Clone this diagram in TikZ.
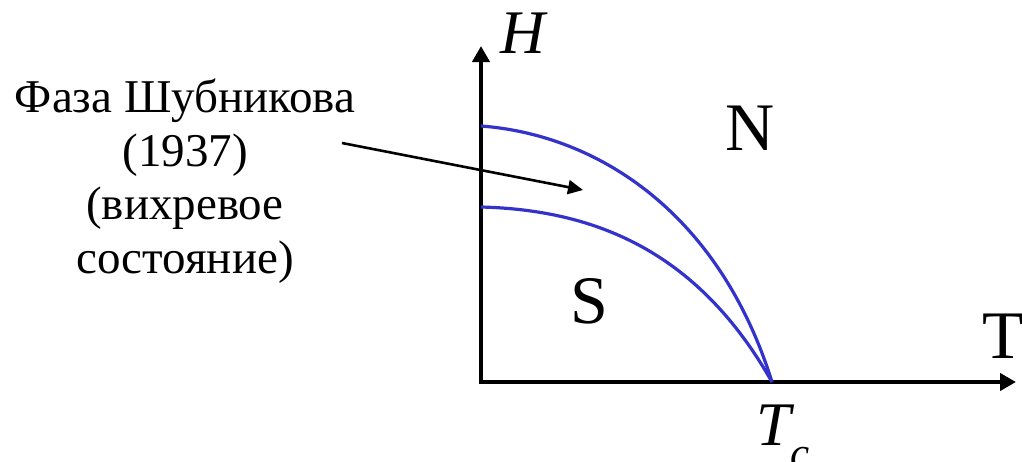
\documentclass[tikz,border=0pt]{standalone}
\usepackage{fontspec}
\setmainfont{Liberation Serif}
\usetikzlibrary{arrows.meta}
\definecolor{curveblue}{RGB}{51,51,204}
\begin{document}
\begin{tikzpicture}[x=1pt,y=-1pt,
  axis/.style={line width=4.5pt,-{Triangle[length=16pt,width=17pt]}},
  phase/.style={curveblue,line width=3.2pt},
  pointer/.style={line width=2.6pt,-{Triangle[length=15pt,width=14pt]}},
  lbl/.style={font=\fontsize{47}{53}\selectfont,anchor=base,inner sep=0pt},
  big/.style={font=\fontsize{68}{70}\selectfont,anchor=base,inner sep=0pt},
  sym/.style={font=\fontsize{62}{64}\selectfont\itshape,anchor=base west,inner sep=0pt}]
\useasboundingbox (0,0) rectangle (1022,461);
% axes
\coordinate (O) at (481,382);
\coordinate (Htip) at (481,46);
\coordinate (Ttip) at (1016,382);
\coordinate (Tc) at (772,382);
\draw[axis] ([yshift=2.25pt]O) -- (Htip);
\draw[axis] ([xshift=-2.25pt]O) -- (Ttip);
% phase boundaries
\coordinate (Hc2) at (481,126);
\coordinate (Hc1) at (481,207);
\draw[phase] (Hc2) .. controls (600,135) and (720,215) .. (Tc);
\draw[phase] (Hc1) .. controls (600,210) and (700,255) .. (Tc);
% labels
\node[lbl] (l1) at (185,112) {Фаза Шубникова};
\node[lbl] (l2) at (185,166) {(1937)};
\node[lbl] (l3) at (185,219) {(вихревое};
\node[lbl] (l4) at (185,273) {состояние)};
\coordinate (ps) at (342,143);
\coordinate (pe) at (583,190);
\draw[pointer] (ps) -- (pe);
\node[big] (N) at (750,150) {N};
\node[big] (S) at (589,323) {S};
\node[big] (T) at (1003,358) {T};
\node[sym] (H) at (500,53) {H};
\node[sym] (TcL) at (756,445) {T\raisebox{-22pt}{\fontsize{43}{43}\selectfont c}};
\end{tikzpicture}
\end{document}
